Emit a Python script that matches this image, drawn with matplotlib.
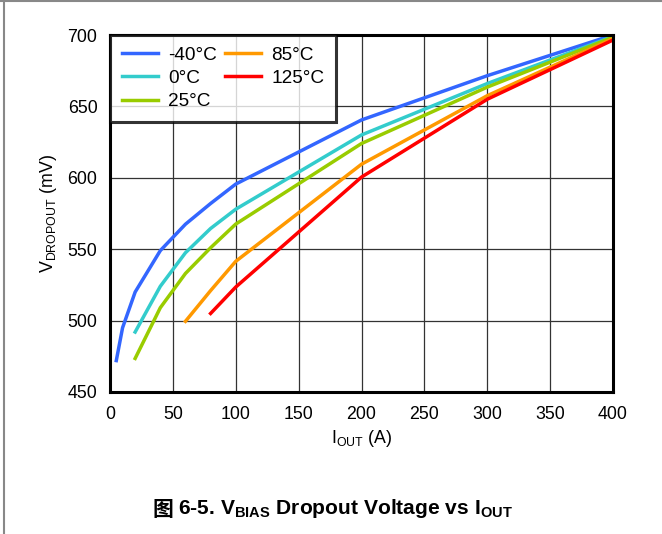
import matplotlib
matplotlib.use("Agg")
import matplotlib.pyplot as plt
from matplotlib.lines import Line2D

plt.rcParams['font.family'] = ['Liberation Sans', 'DejaVu Sans']
plt.rcParams['mathtext.fontset'] = 'custom'
plt.rcParams['mathtext.rm'] = 'Liberation Sans'
plt.rcParams['mathtext.it'] = 'Liberation Sans:italic'
plt.rcParams['mathtext.bf'] = 'Liberation Sans:bold'

# ---- data ----
labels = ['-40°C', '0°C', '25°C', '85°C', '125°C']
colors = ['#3366FF', '#33CCCC', '#99CC00', '#FF9900', '#FF0000']

x_m40 = [5, 10, 20, 40, 60, 80, 100, 200, 300, 400]
y_m40 = [472, 495, 520, 549, 567.5, 582, 595.6, 640.5, 671.5, 700]

x_0 = [20, 40, 60, 80, 100, 200, 300, 400]
y_0 = [492, 524, 547.5, 564.5, 578, 630, 666, 699]

x_25 = [20, 40, 60, 80, 100, 200, 300, 400]
y_25 = [473.5, 509, 533, 551, 567.6, 624, 663.5, 698.5]

x_85 = [60, 80, 100, 200, 300, 400]
y_85 = [499.5, 521, 541.5, 609.5, 657.5, 697.5]

x_125 = [80, 100, 200, 300, 400]
y_125 = [505, 523.5, 600.5, 655, 696.5]

xticks = [0, 50, 100, 150, 200, 250, 300, 350, 400]
yticks = [450, 500, 550, 600, 650, 700]

series = [(x_m40, y_m40), (x_0, y_0), (x_25, y_25), (x_85, y_85), (x_125, y_125)]

W, H = 662, 534
fig = plt.figure(figsize=(W / 100, H / 100), dpi=100)
ax = fig.add_axes([110 / W, 1 - 392 / H, (613 - 110) / W, (392 - 35) / H])

for (xs, ys), c, lab in zip(series, colors, labels):
    ax.plot(xs, ys, color=c, lw=2.5, label=lab, solid_joinstyle='miter', zorder=3)

ax.set_xlim(0, 400)
ax.set_ylim(450, 700)
ax.set_xticks(xticks)
ax.set_yticks(yticks)
ax.grid(True, color='#333333', lw=0.9)
ax.tick_params(length=0, labelsize=12.8, pad=9)
ax.tick_params(axis='x', pad=10)
for s in ax.spines.values():
    s.set_linewidth(2.2)
    s.set_color('black')
    s.set_zorder(4)

ax.set_xlabel(r'$\mathregular{I_{OUT}}$ (A)', fontsize=12.8, labelpad=4)
ax.set_ylabel(r'$\mathregular{V_{DROPOUT}}$ (mV)', fontsize=12.8, labelpad=6)

leg = ax.legend(loc='upper left', ncol=2, fontsize=13.7, frameon=True, fancybox=False,
                borderaxespad=0, handlelength=1.9, handletextpad=0.55,
                columnspacing=0.4, labelspacing=0.3, borderpad=0.62)
leg.get_frame().set_edgecolor('black')
leg.get_frame().set_linewidth(2.2)
leg.set_zorder(5)

# caption
fig.text(153 / W, 1 - 509 / H, '图', fontsize=15, fontweight='bold',
         family=['Noto Sans CJK SC', 'DejaVu Sans'], ha='left', va='center')
fig.text(178 / W, 1 - 509 / H,
         r'6-5. $\mathbf{V_{BIAS}}$ Dropout Voltage vs $\mathbf{I_{OUT}}$',
         fontsize=15.1, fontweight='bold', ha='left', va='center')

# page border lines
fig.add_artist(Line2D([0, 1], [1 - 0.5 / H, 1 - 0.5 / H], transform=fig.transFigure,
                      color='#888888', lw=1.5))
fig.add_artist(Line2D([3.5 / W, 3.5 / W], [0, 1], transform=fig.transFigure,
                      color='#888888', lw=1.5))

fig.savefig('out.png', dpi=100)
